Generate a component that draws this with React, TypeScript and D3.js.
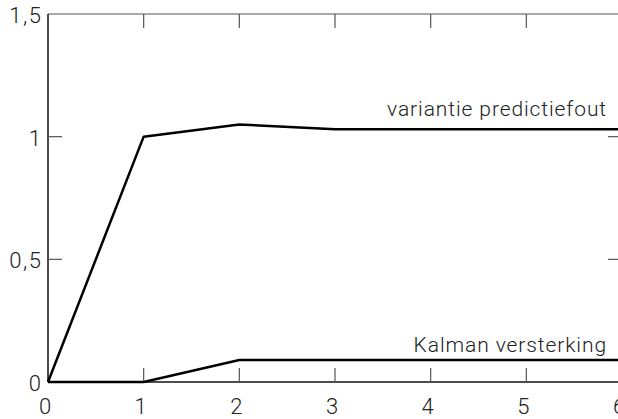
import { useEffect, useRef } from "react";
import * as d3 from "d3";

// x steps and the two series
const steps = [0, 1, 2, 3, 4, 5, 6];
const variantie = [0, 1, 1.05, 1.03, 1.03, 1.03, 1.03];
const kalman = [0, 0, 0.09, 0.09, 0.09, 0.09, 0.09];
const yTicks = [0, 0.5, 1, 1.5];
const yTickLabels = ["0", "0,5", "1", "1,5"];
const seriesLabels = ["variantie predictiefout", "Kalman versterking"];

const W = 618;
const H = 419;

function App() {
    const svgRef = useRef<SVGSVGElement>(null);

    useEffect(() => {
        const margin = { top: 14, right: -4, bottom: 37, left: 48 };
        const font = "Roboto, 'Liberation Sans', Arial, sans-serif";

        const x = d3.scaleLinear().domain([0, 6]).range([margin.left, W - margin.right]);
        const y = d3.scaleLinear().domain([0, 1.5]).range([H - margin.bottom, margin.top]);

        const svg = d3.select(svgRef.current);
        svg.selectAll("*").remove();

        const x0 = x(0), x1 = x(6), y0 = y(0), y1 = y(1.5);
        const tickLen = 14;

        // frame
        svg.append("line").attr("x1", x0).attr("x2", x1).attr("y1", y1).attr("y2", y1)
            .attr("stroke", "#555").attr("stroke-width", 1.2);
        svg.append("line").attr("x1", x1).attr("x2", x1).attr("y1", y1).attr("y2", y0)
            .attr("stroke", "#555").attr("stroke-width", 1.2);
        svg.append("line").attr("x1", x0).attr("x2", x0).attr("y1", y1).attr("y2", y0)
            .attr("stroke", "#111").attr("stroke-width", 1.5);
        svg.append("line").attr("x1", x0).attr("x2", x1).attr("y1", y0).attr("y2", y0)
            .attr("stroke", "#111").attr("stroke-width", 1.5);

        // inner ticks on all four sides
        const ticks = svg.append("g").attr("stroke", "#555").attr("stroke-width", 1.2);
        steps.slice(1, -1).forEach(s => {
            ticks.append("line").attr("x1", x(s)).attr("x2", x(s)).attr("y1", y0).attr("y2", y0 - tickLen);
            ticks.append("line").attr("x1", x(s)).attr("x2", x(s)).attr("y1", y1).attr("y2", y1 + tickLen);
        });
        yTicks.slice(1, -1).forEach(t => {
            ticks.append("line").attr("x1", x0).attr("x2", x0 + tickLen).attr("y1", y(t)).attr("y2", y(t));
            ticks.append("line").attr("x1", x1).attr("x2", x1 - tickLen).attr("y1", y(t)).attr("y2", y(t));
        });

        // tick labels
        svg.append("g").selectAll("text").data(steps).enter().append("text")
            .attr("x", d => x(d) - 3).attr("y", 414)
            .attr("text-anchor", "middle")
            .style("font-family", font).style("font-size", "22px").style("font-weight", 300)
            .attr("fill", "#222")
            .text(d => String(d));
        svg.append("g").selectAll("text").data(yTicks).enter().append("text")
            .attr("x", 42.5).attr("y", d => y(d) + 9)
            .attr("text-anchor", "end")
            .style("font-family", font).style("font-size", "22px").style("font-weight", 300)
            .style("letter-spacing", "1.5px")
            .attr("fill", "#222")
            .text((d, i) => yTickLabels[i]);

        // series
        const line = d3.line<number>()
            .x((d, i) => x(steps[i]))
            .y(d => y(d));
        [variantie, kalman].forEach(s => {
            svg.append("path").datum(s)
                .attr("fill", "none").attr("stroke", "#000").attr("stroke-width", 2.5)
                .attr("stroke-linejoin", "round")
                .attr("d", line);
        });

        // series labels
        const labelY = [y(1.03) - 13, y(0.09) - 8];
        seriesLabels.forEach((l, i) => {
            svg.append("text")
                .attr("x", 607).attr("y", labelY[i])
                .attr("text-anchor", "end")
                .style("font-family", font).style("font-size", "21px").style("font-weight", 300)
                .style("letter-spacing", "0.9px")
                .attr("fill", "#222")
                .text(l);
        });
    }, []);

    return (
        <svg ref={svgRef} width={W} height={H}
            style={{ position: "fixed", left: 0, top: 0, background: "#fff" }} />
    );
}

export default App;
